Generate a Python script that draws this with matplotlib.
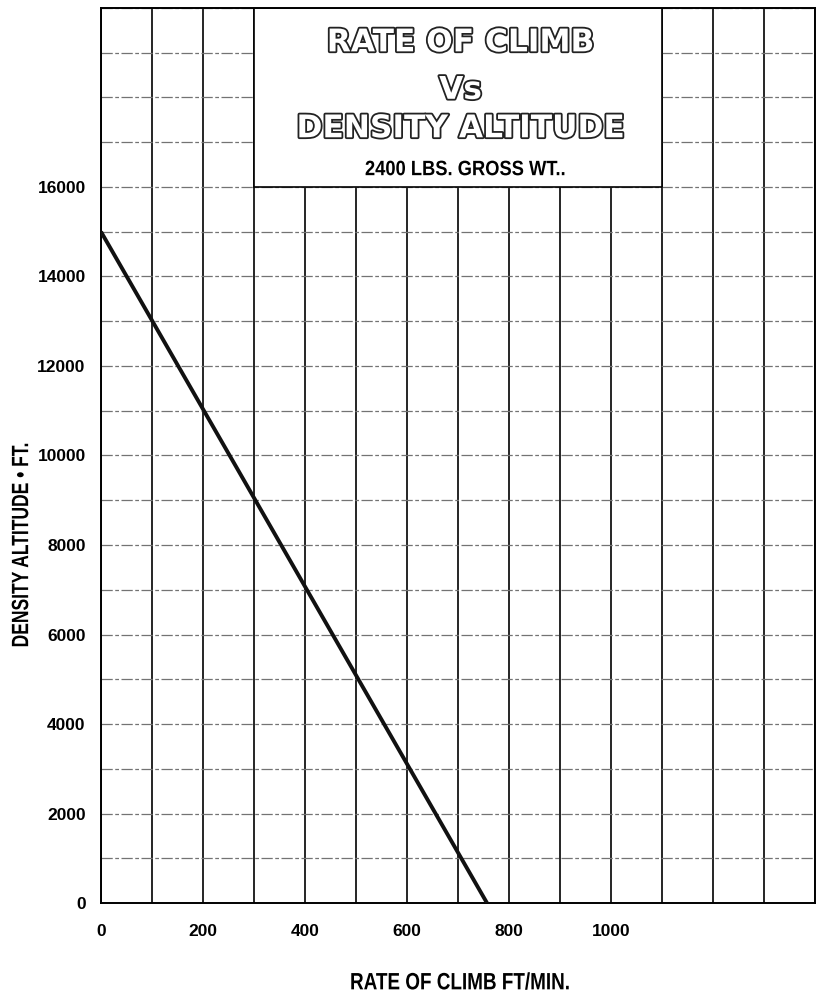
import matplotlib
matplotlib.use("Agg")
import matplotlib.pyplot as plt
import matplotlib.patheffects as pe
from matplotlib.patches import Rectangle, PathPatch
from matplotlib.textpath import TextPath
from matplotlib.font_manager import FontProperties
from matplotlib.transforms import Affine2D

# climb line
rate = [0, 757]
altitude = [15000, 0]

x_grid = list(range(0, 1500, 100))
y_grid = list(range(0, 21000, 1000))
x_labels = {0: "0", 200: "200", 400: "400", 600: "600", 800: "800", 1000: "1000"}
y_labels = {v: str(v) for v in range(0, 18000, 2000)}

title_lines = ["RATE OF CLIMB", "Vs", "DENSITY ALTITUDE"]
subtitle = "2400 LBS. GROSS WT.."
xlabel = "RATE OF CLIMB FT/MIN."
ylabel = "DENSITY ALTITUDE \u2022 FT."

plain = ["Liberation Sans", "DejaVu Sans"]

W, H = 819, 993
fig = plt.figure(figsize=(W / 100, H / 100), dpi=100)
ax = fig.add_axes([0.1233, 0.0906, 0.8717, 0.9014])


def narrow_text(px, py, s, size, rotation=0, squeeze=0.8):
    # condensed bold text: squeeze a Liberation Sans Bold outline sideways
    fp = FontProperties(family="Liberation Sans", weight="bold")
    tp = TextPath((0, 0), s, size=size, prop=fp)
    bb = tp.get_extents()
    k = fig.dpi / 72
    tr = (Affine2D().translate(-(bb.x0 + bb.x1) / 2, -(bb.y0 + bb.y1) / 2)
          .scale(squeeze * k, k).rotate_deg(rotation)
          .translate(px, H - py).scale(1 / W, 1 / H))
    fig.add_artist(PathPatch(tr.transform_path(tp), transform=fig.transFigure,
                             facecolor="black", edgecolor="none", zorder=5))


ax.set_xlim(0, 1400)
ax.set_ylim(0, 20000)

# grid: vertical lines solid, horizontal ones lighter and broken
for x in x_grid:
    ax.axvline(x, color="black", lw=1.2, zorder=1)
for y in y_grid:
    ax.axhline(y, color="0.45", lw=0.9, ls=(0, (9, 2, 3, 2)), zorder=1)

# white title box
ax.add_patch(Rectangle((300, 16000), 800, 4000, facecolor="white",
                       edgecolor="black", lw=1.2, zorder=2))

ax.plot(rate, altitude, color="#111111", lw=2.8, zorder=3,
        solid_capstyle="butt")

outline = [pe.withStroke(linewidth=2.6, foreground="#222222")]
title_y = [19220, 18160, 17300]
for txt, ty in zip(title_lines, title_y):
    ax.text(705, ty, txt, ha="center", va="center", fontsize=22.5,
            fontweight="bold", family="DejaVu Sans", color="white",
            path_effects=outline, zorder=4)

ax.set_xticks(x_grid)
ax.set_xticklabels([x_labels.get(v, "") for v in x_grid])
ax.set_yticks(y_grid)
ax.set_yticklabels([y_labels.get(v, "") for v in y_grid])
ax.tick_params(length=0)
ax.tick_params(axis="x", pad=15)
ax.tick_params(axis="y", pad=11)
for lab in ax.get_xticklabels() + ax.get_yticklabels():
    lab.set_fontsize(12.5)
    lab.set_fontweight("bold")
    lab.set_family(plain)

for s in ax.spines.values():
    s.set_linewidth(1.4)

narrow_text(465, 168, subtitle, 15, squeeze=0.88)
narrow_text(460, 981, xlabel, 17, squeeze=0.8)
narrow_text(20, 545, ylabel, 17, rotation=90, squeeze=0.74)

fig.savefig("out.png", dpi=100, facecolor="white")
